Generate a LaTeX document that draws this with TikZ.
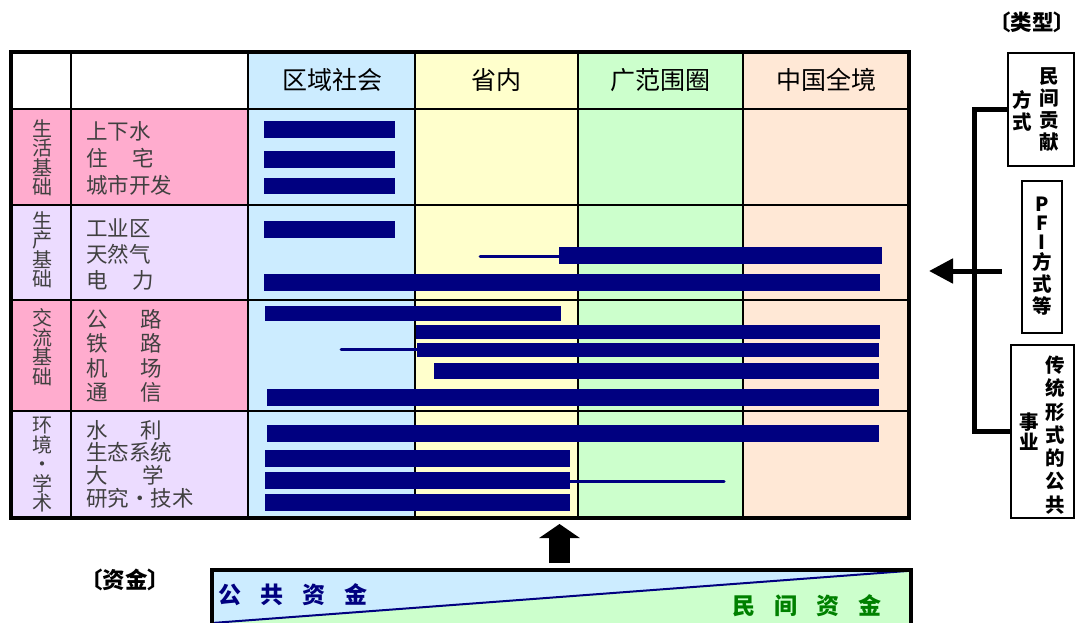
\documentclass[tikz,border=0pt]{standalone}
\usepackage{fontspec}
\setmainfont{Noto Sans CJK SC}
\usetikzlibrary{arrows.meta,positioning}
\definecolor{navybar}{RGB}{0,0,128}
\definecolor{pinkrow}{RGB}{255,172,206}
\definecolor{lilacrow}{RGB}{236,220,255}
\definecolor{bluecol}{RGB}{204,236,255}
\definecolor{yellowcol}{RGB}{255,255,204}
\definecolor{greencol}{RGB}{204,255,204}
\definecolor{peachcol}{RGB}{255,232,214}
\definecolor{fundgreen}{RGB}{0,128,0}

\begin{document}
\begin{tikzpicture}[x=1pt, y=-1pt,
  header/.style={inner sep=0pt, font=\fontsize{25}{28}\selectfont},
  rowlabel/.style={align=center, inner sep=0pt, text=black!75, font=\fontsize{20}{19.5}\selectfont},
  items/.style={anchor=west, align=left, inner sep=0pt, text=black!75},
  bar/.style={fill=navybar},
  thinbar/.style={draw=navybar, line width=3pt, line cap=round},
  typebox/.style={draw, line width=1.2pt, fill=white, inner sep=0pt},
  vtext/.style={align=center, inner sep=0pt, font=\bfseries\fontsize{19.5}{22}\selectfont}]

\useasboundingbox (0,0) rectangle (1075,623);

% Table backgrounds
\fill[white] (11,52) rectangle (248,109);
\fill[pinkrow] (11,109) rectangle (248,205);
\fill[lilacrow] (11,205) rectangle (248,300);
\fill[pinkrow] (11,300) rectangle (248,411);
\fill[lilacrow] (11,411) rectangle (248,518);
\fill[bluecol] (248,52) rectangle (415,518);
\fill[yellowcol] (415,52) rectangle (578,518);
\fill[greencol] (578,52) rectangle (743,518);
\fill[peachcol] (743,52) rectangle (909,518);

% Grid
\foreach \x in {71,248,415,578,743}
  \draw[line width=1.3pt] (\x,52) -- (\x,518);
\foreach \y in {109,205,300,411}
  \draw[line width=1.3pt] (11,\y) -- (909,\y);
\draw[line width=3.5pt] (11,52) rectangle (909,518);

% Header
\node[header] (hLocal) at (332,80) {区域社会};
\node[header] (hProvince) at (496,80) {省内};
\node[header] (hWide) at (660,80) {广范围圈};
\node[header] (hNation) at (826,80) {中国全境};

% Row labels
\node[rowlabel] (lLife) at (42,158) {生\\活\\基\\础};
\node[rowlabel] (lProd) at (42,250) {生\\产\\基\\础};
\node[rowlabel] (lTraffic) at (42,347) {交\\流\\基\\础};
\node[rowlabel] (lEnv) at (42,465) {环\\境\\·\\学\\术};

% Items
\node[items, font=\fontsize{21.5}{27}\selectfont] (iLife) at (86,158)
  {上下水\\住\hspace{25pt}宅\\城市开发};
\node[items, font=\fontsize{21.5}{26}\selectfont] (iProd) at (86,254)
  {工业区\\天然气\\电\hspace{25pt}力};
\node[items, font=\fontsize{21.5}{24.4}\selectfont] (iTraffic) at (86,356)
  {公\hspace{33pt}路\\铁\hspace{33pt}路\\机\hspace{33pt}场\\通\hspace{33pt}信};
\node[items, font=\fontsize{21.5}{22.7}\selectfont] (iEnv) at (86,464)
  {水\hspace{33pt}利\\生态系统\\大\hspace{35pt}学\\研究·技术};

% Bars
\foreach \xa/\ya/\xb/\yb in {264/121/395/138, 264/151/395/168, 264/178/395/194,
    264/221/395/238, 559/247/882/264, 264/274/880/291,
    265/306/561/321, 416/325/880/339, 417/343/879/357, 434/363/879/379, 267/389/879/406,
    267/425/879/442, 265/450/570/467, 265/472/570/489, 265/494/570/511}
  \fill[bar] (\xa,\ya) rectangle (\xb,\yb);
\draw[thinbar] (480,256) -- (559,256);
\draw[thinbar] (341,349) -- (417,349);
\draw[thinbar] (570,481) -- (724,481);

% Types
\node[font=\bfseries\fontsize{21.5}{24}\selectfont, inner sep=0pt] (typeTitle) at (1032,22) {〔类型〕};
\node[typebox, minimum width=66pt, minimum height=113pt] (tPrivate) at (1041,109.5) {};
\node[vtext] (tPrivateA) at (1049,110) {民\\间\\贡\\献};
\node[vtext] (tPrivateB) at (1022,111) {方\\式};
\node[typebox, minimum width=40pt, minimum height=152pt] (tPFI) at (1042,257) {};
\node[vtext] (tPFIA) at (1042,256) {P\\[-3pt]F\\[-3pt]I\\[-2pt]方\\式\\等};
\node[typebox, minimum width=63pt, minimum height=173pt] (tPublic) at (1042.5,431.5) {};
\node[vtext, font=\bfseries\fontsize{19.5}{23.3}\selectfont] (tPublicA) at (1055,435) {传\\统\\形\\式\\的\\公\\共};
\node[vtext, font=\bfseries\fontsize{19.5}{20}\selectfont] (tPublicB) at (1029,432) {事\\业};

\draw[line width=5pt] (tPrivate.west) -- ++(-33,0) |- (tPublic.west);
\coordinate (typeStart) at (1002,271);
\coordinate (typeEnd) at (929,271);
\draw[line width=5pt, -{Triangle[length=24pt,width=24pt]}] (typeStart) -- (typeEnd);

% Funds
\node[font=\bfseries\fontsize{22.5}{24}\selectfont, inner sep=0pt] (fundTitle) at (125,580) {〔资金〕};
\fill[greencol] (212,570) rectangle (911,630);
\fill[bluecol] (212,570) -- (907,570) -- (212,623) -- cycle;
\draw[navybar, line width=2pt] (212,623) -- (907,571);
\draw[line width=4pt] (212,630) -- (212,570) -- (911,570) -- (911,630);
\node[anchor=west, inner sep=0pt, text=navybar, font=\bfseries\fontsize{23}{24}\selectfont] (fPublic) at (218,595)
  {公\hspace{19pt}共\hspace{19pt}资\hspace{19pt}金};
\node[anchor=east, inner sep=0pt, text=fundgreen, font=\bfseries\fontsize{23}{24}\selectfont] (fPrivate) at (882,606)
  {民\hspace{19pt}间\hspace{19pt}资\hspace{19pt}金};

\coordinate (fundUp) at (559.5,563);
\coordinate (tableDown) at (559.5,524);
\draw[line width=21pt, -{Triangle[length=14pt,width=40pt]}] (fundUp) -- (tableDown);
\end{tikzpicture}
\end{document}
